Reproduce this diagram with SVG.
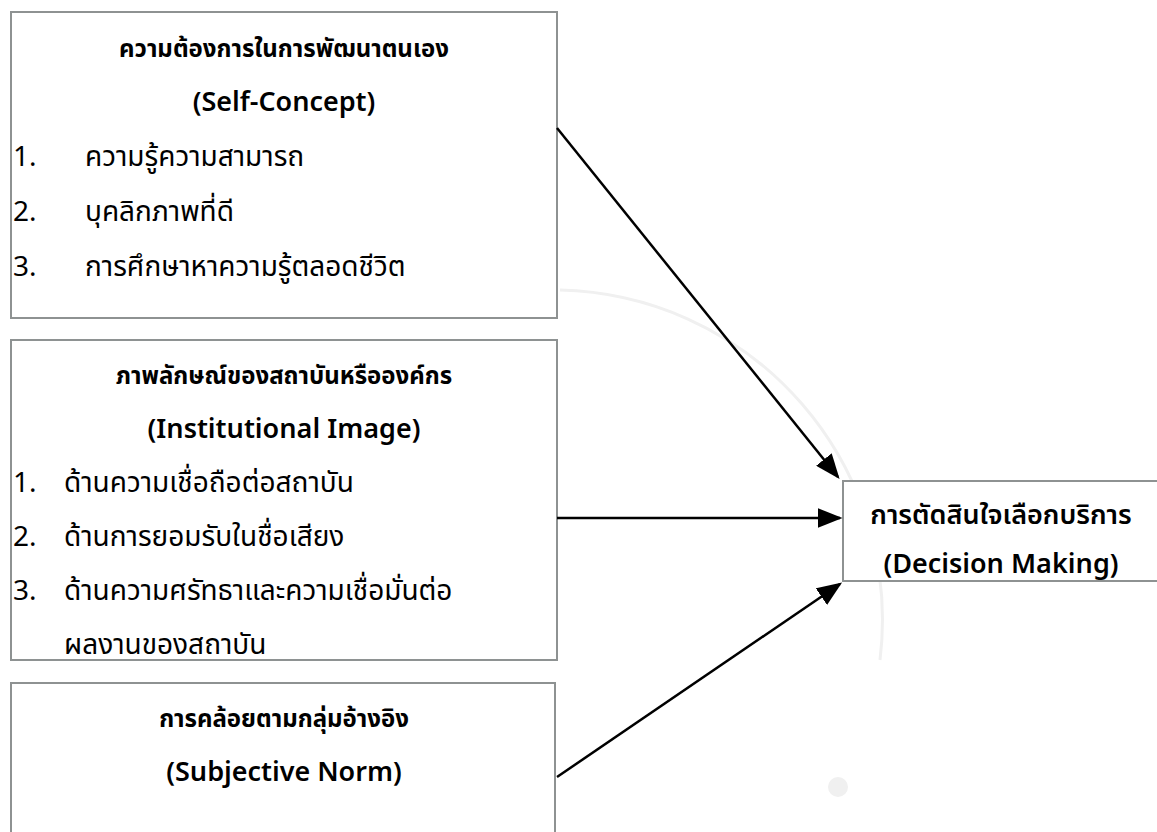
<svg xmlns="http://www.w3.org/2000/svg" width="1157" height="832" viewBox="0 0 1157 832">
<style>
.box{fill:#ffffff;stroke:#8e9292;stroke-width:2}
.t{font-family:"Noto Sans Thai","Leelawadee UI",Tahoma,"Noto Sans","DejaVu Sans",sans-serif;font-size:28px;fill:#000}
.h{font-size:24px;font-weight:bold}
.m{font-size:27px;font-weight:600}
.c{text-anchor:middle}
.edge{stroke:#000;stroke-width:2.5;fill:none}
</style>
<defs>
<marker id="arr" markerWidth="10" markerHeight="8" refX="9" refY="4" orient="auto" markerUnits="strokeWidth">
<path d="M0,0 L10,4 L0,8 Z" fill="#000"/>
</marker>
</defs>
<rect width="1157" height="832" fill="#fff"/>
<g id="watermark" fill="none" stroke="#f0f0f0" stroke-width="3">
<path d="M560,290 A330,330 0 0 1 880,660"/>
<circle cx="838" cy="787" r="10" fill="#f0f0f0" stroke="none"/>
</g>
<g id="node-self-concept">
<rect class="box" x="11" y="12" width="546" height="306"/>
<text class="t h c" x="284" y="57">ความต้องการในการพัฒนาตนเอง</text>
<text class="t m c" x="284" y="111">(Self-Concept)</text>
<text class="t" x="13" y="166">1.</text>
<text class="t" x="85" y="166">ความรู้ความสามารถ</text>
<text class="t" x="13" y="221">2.</text>
<text class="t" x="85" y="221">บุคลิกภาพที่ดี</text>
<text class="t" x="13" y="276">3.</text>
<text class="t" x="85" y="276">การศึกษาหาความรู้ตลอดชีวิต</text>
</g>
<g id="node-institutional-image">
<rect class="box" x="11" y="340" width="546" height="320"/>
<text class="t h c" x="284" y="384">ภาพลักษณ์ของสถาบันหรือองค์กร</text>
<text class="t m c" x="284" y="438">(Institutional Image)</text>
<text class="t" x="13" y="492">1.</text>
<text class="t" x="64" y="492">ด้านความเชื่อถือต่อสถาบัน</text>
<text class="t" x="13" y="546">2.</text>
<text class="t" x="64" y="546">ด้านการยอมรับในชื่อเสียง</text>
<text class="t" x="13" y="600">3.</text>
<text class="t" x="64" y="600">ด้านความศรัทธาและความเชื่อมั่นต่อ</text>
<text class="t" x="64" y="654">ผลงานของสถาบัน</text>
</g>
<g id="node-subjective-norm">
<rect class="box" x="11" y="683" width="544" height="170"/>
<text class="t h c" x="284" y="727">การคล้อยตามกลุ่มอ้างอิง</text>
<text class="t m c" x="284" y="781">(Subjective Norm)</text>
</g>
<g id="node-decision-making">
<rect class="box" x="843" y="481" width="320" height="100"/>
<text class="t m c" x="1001" y="524">การตัดสินใจเลือกบริการ</text>
<text class="t m c" x="1001" y="573">(Decision Making)</text>
</g>
<g id="connectors">
<line class="edge" x1="557" y1="128" x2="838" y2="477" marker-end="url(#arr)"/>
<line class="edge" x1="557" y1="518" x2="840" y2="518" marker-end="url(#arr)"/>
<line class="edge" x1="557" y1="777" x2="840" y2="584" marker-end="url(#arr)"/>
</g>
</svg>
